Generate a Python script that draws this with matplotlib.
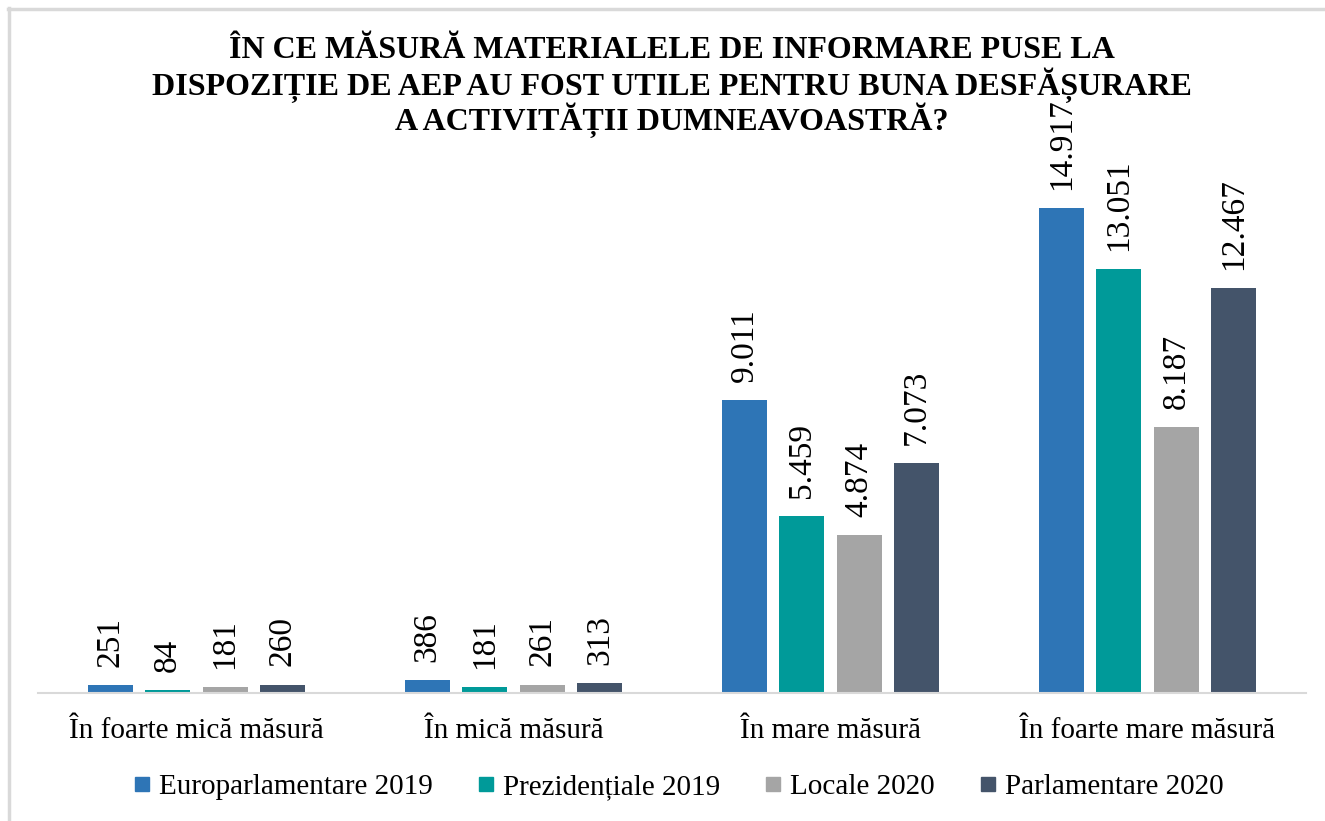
import numpy as np
import matplotlib.pyplot as plt
from matplotlib.lines import Line2D

plt.rcParams['font.family'] = ['Liberation Serif', 'DejaVu Serif']

# data
categories = ['În foarte mică măsură', 'În mică măsură', 'În mare măsură', 'În foarte mare măsură']
series = ['Europarlamentare 2019', 'Prezidențiale 2019', 'Locale 2020', 'Parlamentare 2020']
europarl_2019 = [251, 386, 9011, 14917]
prez_2019 = [84, 181, 5459, 13051]
locale_2020 = [181, 261, 4874, 8187]
parl_2020 = [260, 313, 7073, 12467]
colors = ['#2E75B6', '#009A99', '#A5A5A5', '#44546A']
title_lines = ['ÎN CE MĂSURĂ MATERIALELE DE INFORMARE PUSE LA',
               'DISPOZIȚIE DE AEP AU FOST UTILE PENTRU BUNA DESFĂȘURARE',
               'A ACTIVITĂȚII DUMNEAVOASTRĂ?']

values = [europarl_2019, prez_2019, locale_2020, parl_2020]

fig = plt.figure(figsize=(13.25, 8.21), dpi=100)
ax = fig.add_axes([38 / 1325, (821 - 693) / 821, 1268 / 1325, 520 / 821])

x = np.arange(len(categories))
width = 0.142
pitch = 0.181
for i, (vals, col) in enumerate(zip(values, colors)):
    pos = x + (i - 1.5) * pitch
    bars = ax.bar(pos, vals, width, color=col, label=series[i])
    for b, v in zip(bars, vals):
        lab = f'{v:,}'.replace(',', '.')
        ax.annotate(lab, (b.get_x() + b.get_width() / 2, v), xytext=(0, 13),
                    textcoords='offset points', rotation=90, ha='center', va='bottom',
                    fontsize=24)

ax.set_xlim(-0.5, 3.5)
ax.set_ylim(0, 16000)
ax.set_xticks(x)
ax.set_xticklabels(categories, fontsize=21)
ax.tick_params(axis='x', length=0, pad=18)
ax.set_yticks([])
for s in ['top', 'right', 'left']:
    ax.spines[s].set_visible(False)
ax.spines['bottom'].set_color('#D9D9D9')
ax.spines['bottom'].set_linewidth(1.5)

handles = [Line2D([], [], marker='s', linestyle='none', markersize=10,
                  markerfacecolor=c, markeredgecolor=c) for c in colors]
fig.legend(handles, series, loc='center', bbox_to_anchor=(0.512, 1 - 787 / 821),
           ncol=4, frameon=False, fontsize=21, handlelength=0.6, handletextpad=0.3,
           columnspacing=1.5)

# title, one text per line
for k, line in enumerate(title_lines):
    fig.text(0.507, 1 - (50 + 35 * k) / 821, line, ha='center', va='center',
             fontsize=23, fontweight='bold')

# light gray frame around the chart
fig.add_artist(Line2D([8 / 1325, 1], [1 - 9 / 821, 1 - 9 / 821], color='#D9D9D9', lw=2.5))
fig.add_artist(Line2D([9 / 1325, 9 / 1325], [0, 1 - 8 / 821], color='#D9D9D9', lw=2.5))

plt.savefig('out.png', dpi=100)
